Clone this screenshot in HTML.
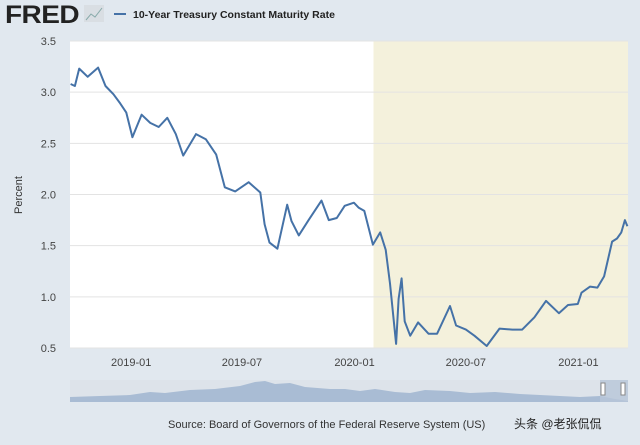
<!DOCTYPE html>
<html><head><meta charset="utf-8"><style>
body{margin:0;width:640px;height:440px;background:#e1e8ef;font-family:"Liberation Sans","Noto Sans CJK SC",sans-serif;overflow:hidden}
</style></head><body>
<svg width="640" height="440">
<rect width="640" height="440" fill="#e1e8ef"/>
<text x="5" y="23" font-size="25" font-weight="bold" fill="#222" letter-spacing="-0.5" textLength="74" lengthAdjust="spacingAndGlyphs">FRED</text>
<rect x="84" y="5" width="20" height="17" fill="#d9dee3"/>
<polyline points="86,20 91,14 95,17 102,8" fill="none" stroke="#8aa" stroke-width="1"/>
<line x1="114" y1="14" x2="126" y2="14" stroke="#4572a7" stroke-width="2"/>
<text x="133" y="18" font-size="10.5" font-weight="bold" fill="#222">10-Year Treasury Constant Maturity Rate</text>
<g id="plot"></g>
<text transform="translate(22,195) rotate(-90)" text-anchor="middle" font-size="11" fill="#333">Percent</text>
<rect x="70" y="380" width="558" height="22" fill="#dde3ea"/>
<path d="M70,397 L100,396 L130,395 L150,392 L165,393 L190,390 L215,389 L240,386 L255,382 L265,381 L275,384 L290,383 L305,387 L330,389 L345,389 L360,391 L375,389 L395,392 L410,393 L425,390 L450,391 L470,393 L495,392 L520,394 L540,395 L560,396 L580,397 L600,396 L615,399 L628,401 L628,402 L70,402Z" fill="#a9bcd4"/>
<rect x="600" y="380" width="28" height="22" fill="#b8c6d8" opacity="0.8"/>
<rect x="601" y="383" width="4" height="12" fill="#fff" stroke="#888"/>
<rect x="621" y="383" width="4" height="12" fill="#fff" stroke="#888"/>
<text x="168" y="428" font-size="11" fill="#333">Source: Board of Governors of the Federal Reserve System (US)</text>
<text x="514" y="428" font-size="12" fill="#222">头条 @老张侃侃</text>
</svg>
<script>
const dates=["2018-09-24","2018-10-01","2018-10-08","2018-10-22","2018-11-08","2018-11-20","2018-12-03","2018-12-14","2018-12-24","2019-01-03","2019-01-18","2019-02-01","2019-02-15","2019-03-01","2019-03-15","2019-03-27","2019-04-17","2019-05-03","2019-05-20","2019-06-03","2019-06-20","2019-07-12","2019-07-31","2019-08-07","2019-08-15","2019-08-28","2019-09-13","2019-09-20","2019-10-02","2019-10-18","2019-11-08","2019-11-20","2019-12-03","2019-12-16","2019-12-31","2020-01-08","2020-01-17","2020-01-31","2020-02-12","2020-02-21","2020-02-28","2020-03-09","2020-03-13","2020-03-18","2020-03-23","2020-04-01","2020-04-14","2020-05-01","2020-05-15","2020-06-05","2020-06-15","2020-07-01","2020-07-15","2020-08-04","2020-08-25","2020-09-15","2020-10-01","2020-10-21","2020-11-09","2020-11-30","2020-12-15","2020-12-31","2021-01-06","2021-01-20","2021-02-01","2021-02-12","2021-02-25","2021-03-05","2021-03-12","2021-03-18","2021-03-22"];
const values=[3.08,3.06,3.23,3.15,3.24,3.06,2.98,2.89,2.80,2.56,2.78,2.70,2.66,2.75,2.59,2.38,2.59,2.54,2.39,2.07,2.03,2.12,2.02,1.71,1.53,1.47,1.90,1.74,1.60,1.75,1.94,1.75,1.77,1.89,1.92,1.87,1.84,1.51,1.63,1.46,1.13,0.54,0.98,1.18,0.76,0.62,0.75,0.64,0.64,0.91,0.72,0.68,0.62,0.52,0.69,0.68,0.68,0.80,0.96,0.84,0.92,0.93,1.04,1.10,1.09,1.20,1.54,1.57,1.63,1.75,1.69];
const yTicks=[0.5,1.0,1.5,2.0,2.5,3.0,3.5];
const xTicks=["2019-01","2019-07","2020-01","2020-07","2021-01"];
const recession=["2020-02-01","2021-03-25"];
const NS="http://www.w3.org/2000/svg";
const t0=Date.parse("2018-09-23"),t1=Date.parse("2021-03-23");
const X0=70,X1=628,Y0=348,Y1=41;
const x=d=>X0+(Date.parse(d)-t0)/(t1-t0)*(X1-X0);
const y=v=>Y0-(v-0.5)/3*(Y0-Y1);
const g=document.getElementById('plot');
function mk(tag,a){const e=document.createElementNS(NS,tag);for(const k in a)e.setAttribute(k,a[k]);g.appendChild(e);return e;}
const bg=mk('rect',{x:X0,y:Y1,width:X1-X0,height:Y0-Y1,fill:'#fff'});


const rx=Math.max(X0,x(recession[0])),rx2=Math.min(X1,x(recession[1]));
const rec=mk('rect',{x:rx,y:Y1,width:rx2-rx,height:Y0-Y1,fill:'#f4f1dc'});


yTicks.forEach(v=>{
 const l=mk('line',{x1:X0,x2:X1,y1:y(v),y2:y(v),stroke:'#e3e3e3','stroke-width':1});
 
 
 const t=mk('text',{x:56,y:y(v)+4,'text-anchor':'end','font-size':11,fill:'#444'});
 t.textContent=v.toFixed(1);
 
 
});
xTicks.forEach(d=>{
 const t=mk('text',{x:x(d+"-01"),y:366,'text-anchor':'middle','font-size':11,fill:'#444'});
 t.textContent=d;
 
 
});
const p=mk('polyline',{points:dates.map((d,i)=>x(d).toFixed(1)+','+y(values[i]).toFixed(1)).join(' '),fill:'none',stroke:'#4572a7','stroke-width':2,'stroke-linejoin':'round'});


</script>
</body></html>
